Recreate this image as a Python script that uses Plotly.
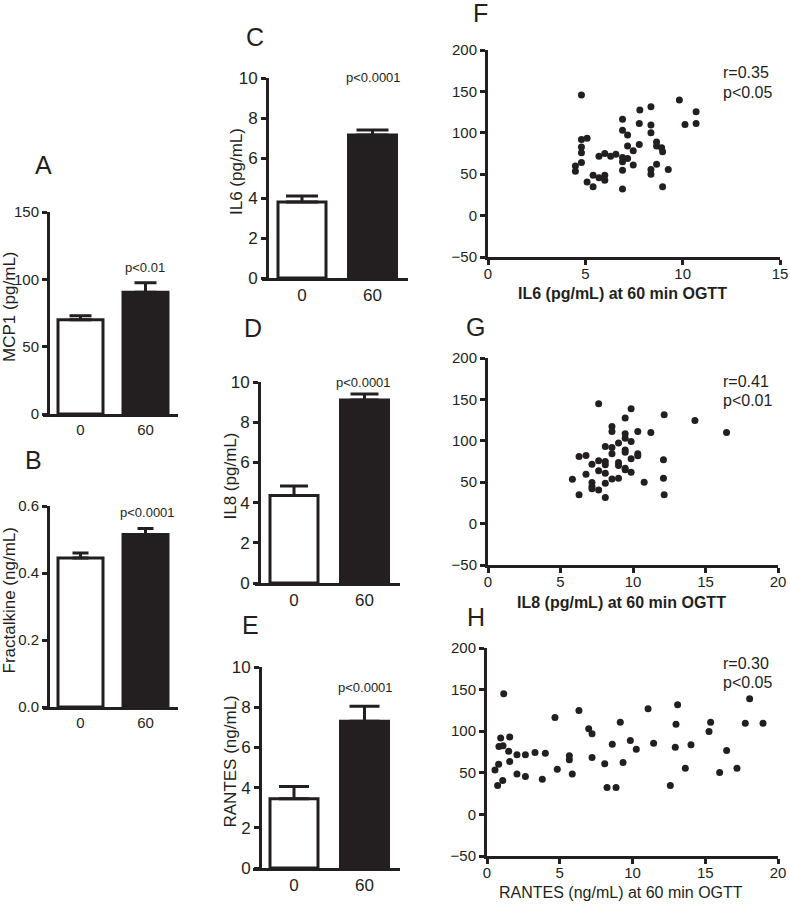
import plotly.graph_objects as go

# ---------------- data ----------------
bar_categories = ["0", "60"]

mcp1_mean = [70, 90.5]
mcp1_sem = [3, 7]
fkn_mean = [0.445, 0.515]
fkn_sem = [0.015, 0.018]
il6_mean = [3.8, 7.15]
il6_sem = [0.3, 0.25]
il8_mean = [4.35, 9.1]
il8_sem = [0.47, 0.3]
rantes_mean = [3.45, 7.3]
rantes_sem = [0.6, 0.75]

p_texts = ["p<0.01", "p<0.0001", "p<0.0001", "p<0.0001", "p<0.0001"]

f_x = [4.8, 9.83, 10.69, 10.12, 10.69, 7.8, 8.37, 6.91, 7.77, 8.37, 6.91, 8.37, 7.17, 4.8,
       5.09, 8.66, 8.66, 7.17, 7.77, 8.92, 8.97, 7.46, 4.8, 4.8, 5.7, 6.0, 6.3, 6.57, 6.91,
       7.17, 6.91, 4.8, 4.49, 4.49, 7.46, 8.66, 6.91, 8.37, 8.37, 9.26, 5.4, 5.7, 6.0, 6.0,
       5.09, 5.4, 6.91, 8.97]
f_y = [145.6, 139.5, 125.4, 110, 111.3, 127.4, 131.5, 116.5, 111.3, 109.3, 103.2, 100, 97.2, 92,
       93.5, 89, 84, 84, 86, 81.9, 77, 78.2, 83, 76, 71.8, 75, 71.8, 74.2, 70.2,
       69, 65, 64.1, 60, 53.6, 61, 62, 54.8, 55.6, 50, 55.6, 48.8, 45.6, 48.8, 42.7,
       40.7, 34.7, 32, 34.7]

g_x = [7.63, 9.87, 12.15, 14.27, 16.45, 9.46, 8.55, 8.55, 9.46, 10.33, 11.23, 9.46, 9.87, 9.0,
       8.09, 8.55, 9.46, 9.46, 8.55, 10.33, 10.33, 9.87, 12.1, 6.28, 6.76, 7.63, 8.09, 7.17,
       8.09, 9.0, 9.0, 9.46, 9.46, 9.87, 7.63, 6.76, 8.09, 8.55, 9.0, 12.1, 5.82, 7.17, 8.09,
       10.77, 7.17, 7.17, 7.63, 6.28, 8.09, 12.15]
g_y = [144.8, 138.7, 131.5, 124.6, 110, 127.4, 117.3, 111.3, 108.5, 111.3, 110, 103.2, 99.2, 97.2,
       93.1, 92, 89, 86.3, 84.3, 84.3, 81.9, 78.2, 77, 81, 82.3, 75.8, 75, 71.8,
       71, 73.8, 70.2, 66.9, 64.9, 62.1, 63.7, 59.7, 60.9, 54, 54.8, 54.8, 53.6, 49.6, 48.8,
       50, 44.8, 42, 40.7, 34.7, 31.5, 34.7]

h_x = [1.15, 18.05, 13.1, 11.07, 6.32, 4.67, 6.99, 7.22, 9.16, 12.99, 15.37, 17.75, 18.97, 15.26,
       1.56, 0.94, 0.82, 1.1, 1.49, 2.06, 2.64, 3.3, 4.01, 5.66, 5.66, 7.22, 8.09, 8.61,
       9.85, 10.26, 11.45, 12.94, 14.02, 16.47, 9.35, 1.56, 0.8, 0.55, 4.83, 2.06, 2.64, 5.86,
       13.63, 17.18, 15.99, 3.8, 1.08, 0.73, 8.25, 8.87, 12.6]
h_y = [145, 139, 131.8, 127, 125, 116.5, 103, 96.9, 110.9, 108.5, 110.9, 109.7, 109.7, 99.7,
       92.9, 91.7, 81.6, 82.4, 76, 71.6, 71.6, 74.4, 73.6, 70.4, 65.6, 68.4, 60.8, 84.4,
       88.8, 78.4, 85.6, 80.8, 83.6, 76.8, 62.4, 63.6, 60.4, 53.5, 54.3, 48.7, 45.5, 48.7,
       55.5, 55.5, 50.3, 42.3, 40.7, 34.7, 32.3, 32.3, 34.7]

scatter_stats = [("r=0.35", "p<0.05"), ("r=0.41", "p<0.01"), ("r=0.30", "p<0.05")]

# ---------------- layout helpers ----------------
W, H = 790, 905
INK = "#231f20"
FONT = "Liberation Sans, Arial, sans-serif"


def px(x):
    return x / W


def py(y):
    return 1 - y / H


fig = go.Figure()
layout = dict(width=W, height=H, autosize=False,
              margin=dict(l=0, r=0, t=0, b=0, pad=0, autoexpand=False),
              paper_bgcolor="white", plot_bgcolor="white",
              showlegend=False, font=dict(family=FONT, color=INK))
annotations = []


def ann(text, x, y, size, bold=False, angle=0, xanchor="center", yanchor="middle"):
    if bold:
        text = "<b>" + text + "</b>"
    annotations.append(dict(text=text, x=px(x), y=py(y), xref="paper", yref="paper",
                            showarrow=False, textangle=angle, xanchor=xanchor,
                            yanchor=yanchor, font=dict(family=FONT, size=size, color=INK)))


# bar panels: means, sems, ymax, dtick, fmt, x-axis start/end px, y-axis px, y0 px, ytop px,
# bar centers px, bar width px, cap, ytitle, ytitle x, p text pos, letter, letter pos, tick size
bar_panels = [
    (mcp1_mean, mcp1_sem, 150, 50, "", 43, 178, 48, 414, 212, (80.5, 145.5), 45, 11,
     "MCP1 (pg/mL)", 10, (145, 267), "A", (43, 165), 15),
    (fkn_mean, fkn_sem, 0.6, 0.2, ".1f", 43, 178, 48, 707, 506, (80.5, 145.5), 45, 8,
     "Fractalkine (ng/mL)", 9, (147, 512), "B", (33, 460), 15),
    (il6_mean, il6_sem, 10, 2, "", 262, 408, 267, 278, 78, (302, 372.5), 48, 16,
     "IL6 (pg/mL)", 236, (373, 78), "C", (255, 37), 17),
    (il8_mean, il8_sem, 10, 2, "", 255, 400, 259, 583, 382, (294, 364.5), 48, 14,
     "IL8 (pg/mL)", 230, (363, 382), "D", (253, 328), 17),
    (rantes_mean, rantes_sem, 10, 2, "", 253, 400, 260, 868, 667, (294, 364.5), 48, 15,
     "RANTES (ng/mL)", 230, (365, 687), "E", (250, 625), 17),
]

idx = 0
for i, (means, sems, ymax, dtick, fmt, xs, xe, yx, y0, ytop, (c0, c1), bw, cap,
        ytitle, ytx, ppos, letter, lpos, tsize) in enumerate(bar_panels):
    idx += 1
    sfx = "" if idx == 1 else str(idx)
    unit = c1 - c0
    xr = [-(c0 - xs) / unit, 1 + (xe - c1) / unit]
    fig.add_trace(go.Bar(
        x=[0, 1], y=means, width=bw / unit,
        marker=dict(color=["white", INK], line=dict(color=INK, width=3)),
        error_y=dict(type="data", array=sems, arrayminus=[0, 0], symmetric=False,
                     thickness=3, width=cap, color=INK),
        xaxis="x" + sfx, yaxis="y" + sfx, hoverinfo="skip"))
    layout["xaxis" + sfx] = dict(domain=[px(xs), px(xe)], range=xr, anchor="y" + sfx,
                                 tickvals=[0, 1], ticktext=bar_categories, ticks="",
                                 showline=True, linewidth=3, linecolor=INK,
                                 showgrid=False, zeroline=False, automargin=False,
                                 tickfont=dict(size=tsize, color=INK, family=FONT))
    layout["yaxis" + sfx] = dict(domain=[py(y0), py(ytop)], range=[0, ymax], anchor="free",
                                 position=px(yx), dtick=dtick, tick0=0, tickformat=fmt,
                                 ticks="outside", ticklen=5, tickwidth=3, tickcolor=INK,
                                 showline=True, linewidth=3, linecolor=INK,
                                 showgrid=False, zeroline=False, automargin=False,
                                 tickfont=dict(size=tsize, color=INK, family=FONT))
    ann(ytitle, ytx, (y0 + ytop) / 2 - 6, 17, angle=-90)
    ann(p_texts[i], ppos[0], ppos[1], 13)
    ann(letter, lpos[0], lpos[1], 25)

# scatter panels
scatter_panels = [
    (f_x, f_y, 15, 488, 780, 257, 50, "IL6 (pg/mL) at 60 min OGTT", True, 293, "F", (480, 13), 73),
    (g_x, g_y, 20, 488, 778, 565, 358, "IL8 (pg/mL) at 60 min OGTT", True, 602, "G", (475, 327), 381),
    (h_x, h_y, 20, 487, 778, 856, 648, "RANTES (ng/mL) at 60 min OGTT", False, 892, "H", (476, 617), 663),
]
for j, (xv, yv, xmax, xs, xe, y0, ytop, xtitle, bold, xty, letter, lpos, ry) in enumerate(scatter_panels):
    idx += 1
    sfx = str(idx)
    fig.add_trace(go.Scatter(x=xv, y=yv, mode="markers",
                             marker=dict(size=7, color=INK),
                             xaxis="x" + sfx, yaxis="y" + sfx, hoverinfo="skip"))
    layout["xaxis" + sfx] = dict(domain=[px(xs), px(xe)], range=[0, xmax], anchor="y" + sfx,
                                 dtick=5, tick0=0, ticks="outside", ticklen=5, tickwidth=3,
                                 tickcolor=INK, showline=True, linewidth=3, linecolor=INK,
                                 showgrid=False, zeroline=False, automargin=False,
                                 ticklabelstandoff=-4,
                                 tickfont=dict(size=15, color=INK, family=FONT))
    layout["yaxis" + sfx] = dict(domain=[py(y0), py(ytop)], range=[-50, 200], anchor="x" + sfx,
                                 dtick=50, tick0=0, ticks="outside", ticklen=5, tickwidth=3,
                                 tickcolor=INK, showline=True, linewidth=3, linecolor=INK,
                                 showgrid=False, zeroline=False, automargin=False,
                                 tickfont=dict(size=15, color=INK, family=FONT))
    ann(xtitle, (xs + xe) / 2 - 12, xty, 16, bold=bold)
    ann(letter, lpos[0], lpos[1], 25)
    ann(scatter_stats[j][0], 721, ry, 16, xanchor="left")
    ann(scatter_stats[j][1], 721, ry + 19, 16, xanchor="left")

layout["annotations"] = annotations
fig.update_layout(**layout)
fig.write_html(
    "out.html",
    config={"displayModeBar": False, "staticPlot": True},
    post_script=("document.documentElement.style.margin='0';"
                 "document.body.style.margin='0';"
                 "document.body.style.padding='0';"
                 "document.documentElement.style.overflow='hidden';"
                 "document.body.style.overflow='hidden';"),
)
